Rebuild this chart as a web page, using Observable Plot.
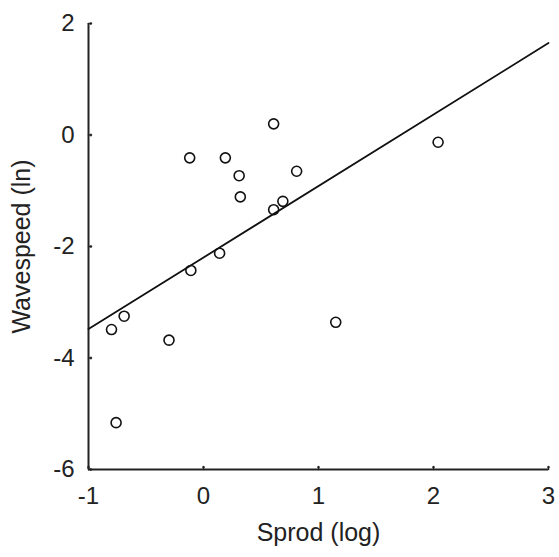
<!DOCTYPE html>
<html>
<head>
<meta charset="utf-8">
<script src="https://cdn.jsdelivr.net/npm/d3@7"></script>
<script src="https://cdn.jsdelivr.net/npm/@observablehq/plot@0.6"></script>
<style>
  html, body { margin: 0; padding: 0; background: #fff; }
  #chart svg { display: block; }
</style>
</head>
<body>
<div id="chart"></div>
<script>
// Data
const sprod = [0.61, -0.12, 0.19, 0.31, 0.32, 0.61, 0.14, -0.11, 0.81, 0.69, 2.04, -0.69, -0.80, -0.30, -0.76, 1.15];
const wavespeed = [0.20, -0.41, -0.41, -0.73, -1.11, -1.34, -2.12, -2.43, -0.65, -1.19, -0.13, -3.25, -3.49, -3.68, -5.16, -3.36];
const fitX = [-1, 3];
const fitY = [-3.48, 1.65];
const xDomain = [-1, 3];
const yDomain = [-6, 2];
const xTicks = [-1, 0, 1, 2, 3];
const yTicks = [-6, -4, -2, 0, 2];
const xLabel = "Sprod (log)";
const yLabel = "Wavespeed (ln)";

const points = sprod.map((x, i) => ({x, y: wavespeed[i]}));
const fit = fitX.map((x, i) => ({x, y: fitY[i]}));
const fmt = d => String(d);

const chart = Plot.plot({
  width: 559,
  height: 557,
  marginLeft: 88,
  marginRight: 11,
  marginTop: 23,
  marginBottom: 88,
  style: {fontFamily: "'Liberation Sans', Arial, sans-serif", fontSize: "24px", color: "#222", background: "#fff"},
  x: {domain: xDomain},
  y: {domain: yDomain},
  marks: [
    Plot.axisX(xTicks, {tickSize: 0, tickPadding: 17, tickFormat: fmt, label: null, fontSize: 24, fill: "#222"}),
    Plot.axisY(yTicks, {tickSize: 0, tickPadding: 14, tickFormat: fmt, label: null, fontSize: 24, fill: "#222"}),
    Plot.vector(xTicks, {x: d => d, y: yDomain[0], length: 3, rotate: 0, anchor: "start", stroke: "#222", strokeWidth: 1.5}),
    Plot.vector(yTicks, {x: xDomain[0], y: d => d, length: 3, rotate: 90, anchor: "start", stroke: "#222", strokeWidth: 1.5}),
    Plot.ruleY([yDomain[0]], {stroke: "#222", strokeWidth: 2}),
    Plot.ruleX([xDomain[0]], {stroke: "#222", strokeWidth: 2}),
    Plot.line(fit, {x: "x", y: "y", stroke: "#111", strokeWidth: 1.8}),
    Plot.dot(points, {x: "x", y: "y", r: 5, stroke: "#111", strokeWidth: 1.6, fill: "none"}),
    Plot.text([xLabel], {frameAnchor: "bottom", dy: 71, fontSize: 25, fill: "#222"}),
    Plot.text([yLabel], {frameAnchor: "left", dx: -67, rotate: -90, textAnchor: "middle", fontSize: 25, fill: "#222"})
  ]
});
document.getElementById("chart").appendChild(chart);
</script>
</body>
</html>
